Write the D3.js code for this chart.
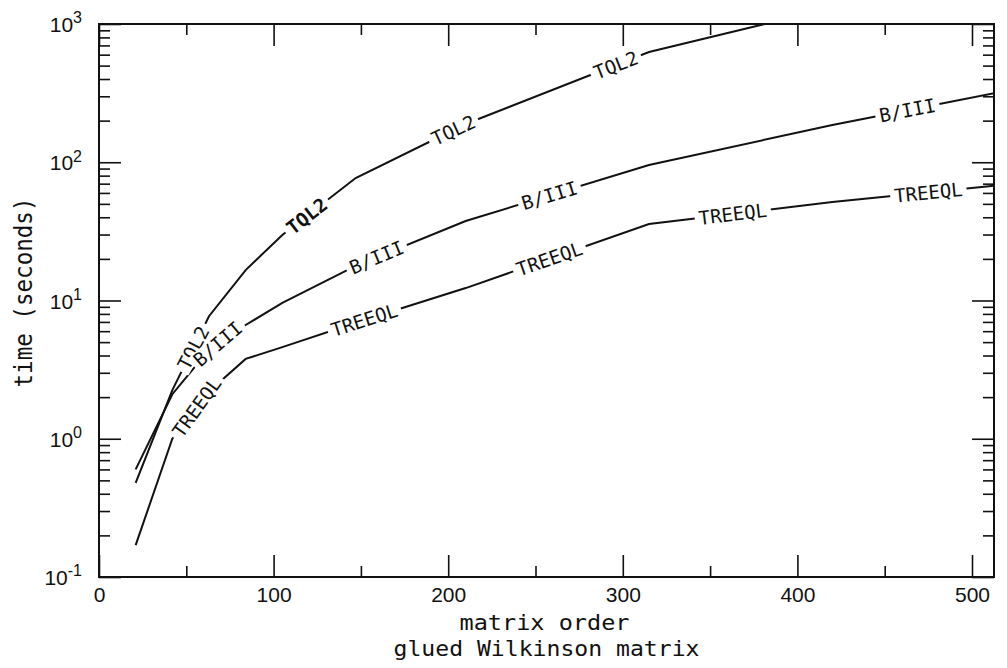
<!DOCTYPE html>
<html>
<head>
<meta charset="utf-8">
<script src="https://cdn.jsdelivr.net/npm/d3@7"></script>
<style>
  body { margin: 0; background: #fff; }
  text { font-family: "DejaVu Sans Mono", "Liberation Mono", monospace; fill: #111; }
  .tick text { font-family: "Liberation Sans", Arial, sans-serif; }
</style>
</head>
<body>
<div id="chart"></div>
<script>
// matrix orders (x) and timings in seconds for each routine
var orders = [21, 42, 63, 84, 105, 147, 210, 315, 420, 525];
var tql2   = [0.48, 2.25, 7.7, 16.6, 29.8, 76.9, 189, 627, 1313, 2700];
var b3     = [0.6, 2.1, 4.4, 6.65, 9.6, 17.8, 37.6, 95.5, 186, 339];
var treeql = [0.17, 1.0, 2.2, 3.78, 4.6, 6.9, 12.3, 35.7, 51.5, 70];

// where the curve labels sit (matrix order at label centre)
var tql2Labels   = [54, 119, 203, 296];
var b3Labels     = [68, 159, 258, 463];
var treeqlLabels = [56, 152, 258, 363, 475];

var xMajor = [0, 100, 200, 300, 400, 500];
var xMinor = [50, 150, 250, 350, 450];
var yExps  = [-1, 0, 1, 2, 3];

var svgWidth = 1007, svgHeight = 668;
var margin = { top: 24, right: 13, bottom: 91, left: 99 };
var width = svgWidth - margin.left - margin.right;
var height = svgHeight - margin.top - margin.bottom;

var svg = d3.select("#chart").append("svg")
    .attr("width", svgWidth)
    .attr("height", svgHeight);
var g = svg.append("g")
    .attr("transform", "translate(" + margin.left + "," + margin.top + ")");

var x = d3.scaleLinear().domain([0, 512.6]).range([0, width]);
var y = d3.scaleLog().domain([0.1, 1000]).range([height, 0]);

var yMajor = yExps.map(function(e) { return Math.pow(10, e); });
var yMinor = [];
yExps.slice(0, -1).forEach(function(e) {
    for (var k = 2; k <= 9; k++) yMinor.push(k * Math.pow(10, e));
});

function styleAxis(sel) {
    sel.select(".domain").remove();
    sel.selectAll(".tick line").attr("stroke", "#111").attr("stroke-width", 1.6);
}

// bottom
g.append("g").attr("transform", "translate(0," + height + ")")
    .call(d3.axisBottom(x).tickValues(xMajor).tickSize(-22).tickPadding(10))
    .call(styleAxis)
    .selectAll("text").style("font-size", "21px");
g.append("g").attr("transform", "translate(0," + height + ")")
    .call(d3.axisBottom(x).tickValues(xMinor).tickSize(-11).tickFormat(""))
    .call(styleAxis);
// top
g.append("g")
    .call(d3.axisTop(x).tickValues(xMajor).tickSize(-22).tickFormat(""))
    .call(styleAxis);
g.append("g")
    .call(d3.axisTop(x).tickValues(xMinor).tickSize(-11).tickFormat(""))
    .call(styleAxis);
// left
var yAxisGroup = g.append("g")
    .call(d3.axisLeft(y).tickValues(yMajor).tickSize(-22).tickPadding(17).tickFormat(""))
    .call(styleAxis);
g.append("g")
    .call(d3.axisLeft(y).tickValues(yMinor).tickSize(-11).tickFormat(""))
    .call(styleAxis);
// right
g.append("g").attr("transform", "translate(" + width + ",0)")
    .call(d3.axisRight(y).tickValues(yMajor).tickSize(-22).tickFormat(""))
    .call(styleAxis);
g.append("g").attr("transform", "translate(" + width + ",0)")
    .call(d3.axisRight(y).tickValues(yMinor).tickSize(-11).tickFormat(""))
    .call(styleAxis);

// power-of-ten labels
yAxisGroup.selectAll(".tick text").each(function(d) {
    var t = d3.select(this).text(null).attr("dy", "0.36em").style("font-size", "21px");
    t.append("tspan").text("10");
    t.append("tspan").text(Math.round(Math.log10(d)))
        .attr("dy", "-0.55em").style("font-size", "16px");
});

// frame
g.append("rect")
    .attr("width", width).attr("height", height)
    .attr("fill", "none").attr("stroke", "#111").attr("stroke-width", 2);

g.append("clipPath").attr("id", "plot-clip")
    .append("rect").attr("width", width).attr("height", height);

var series = [
    { name: "TQL2", values: tql2, labels: tql2Labels },
    { name: "B/III", values: b3, labels: b3Labels },
    { name: "TREEQL", values: treeql, labels: treeqlLabels }
];

var line = d3.line()
    .x(function(d) { return x(d[0]); })
    .y(function(d) { return y(d[1]); });

var plot = g.append("g").attr("clip-path", "url(#plot-clip)");

series.forEach(function(s) {
    var pts = orders.map(function(o, i) { return [o, s.values[i]]; });
    plot.append("path")
        .datum(pts)
        .attr("d", line)
        .attr("fill", "none")
        .attr("stroke", "#111")
        .attr("stroke-width", 2);
});

// curve labels, rotated along the line, with a gap cut out of it
series.forEach(function(s) {
    var px = orders.map(function(o, i) { return [x(o), y(s.values[i])]; });
    function interp(p) {
        for (var i = 0; i < px.length - 1; i++) {
            if (p <= px[i + 1][0] || i == px.length - 2) {
                var f = (p - px[i][0]) / (px[i + 1][0] - px[i][0]);
                return px[i][1] + f * (px[i + 1][1] - px[i][1]);
            }
        }
    }
    s.labels.forEach(function(lx, j) {
        var lg = plot.append("g");
        var txt = lg.append("text")
            .text(s.name)
            .attr("text-anchor", "middle")
            .attr("dy", "0.36em")
            .style("font-size", "19px")
            .style("font-weight", (s.name == "TQL2" && j == 1) ? "bold" : "normal");
        var w = txt.node().getComputedTextLength();
        var cx = x(lx), cy = interp(cx);
        var ang = Math.atan2(interp(cx + w / 2) - interp(cx - w / 2), w) * 180 / Math.PI;
        lg.insert("rect", "text")
            .attr("x", -w / 2 - 4).attr("y", -8.5)
            .attr("width", w + 8).attr("height", 17)
            .attr("fill", "#fff");
        lg.attr("transform", "translate(" + cx + "," + cy + ") rotate(" + ang + ")");
    });
});

// axis titles
svg.append("text")
    .attr("transform", "translate(32," + (margin.top + height / 2 - 8) + ") rotate(-90)")
    .attr("text-anchor", "middle")
    .attr("textLength", 190)
    .attr("lengthAdjust", "spacingAndGlyphs")
    .style("font-size", "25px")
    .text("time (seconds)");
svg.append("text")
    .attr("x", margin.left + width / 2 - 2).attr("y", 630)
    .attr("text-anchor", "middle")
    .attr("textLength", 170)
    .attr("lengthAdjust", "spacingAndGlyphs")
    .style("font-size", "21.5px")
    .text("matrix order");
svg.append("text")
    .attr("x", margin.left + width / 2).attr("y", 656)
    .attr("text-anchor", "middle")
    .attr("textLength", 306)
    .attr("lengthAdjust", "spacingAndGlyphs")
    .style("font-size", "21.5px")
    .text("glued Wilkinson matrix");
</script>
</body>
</html>
